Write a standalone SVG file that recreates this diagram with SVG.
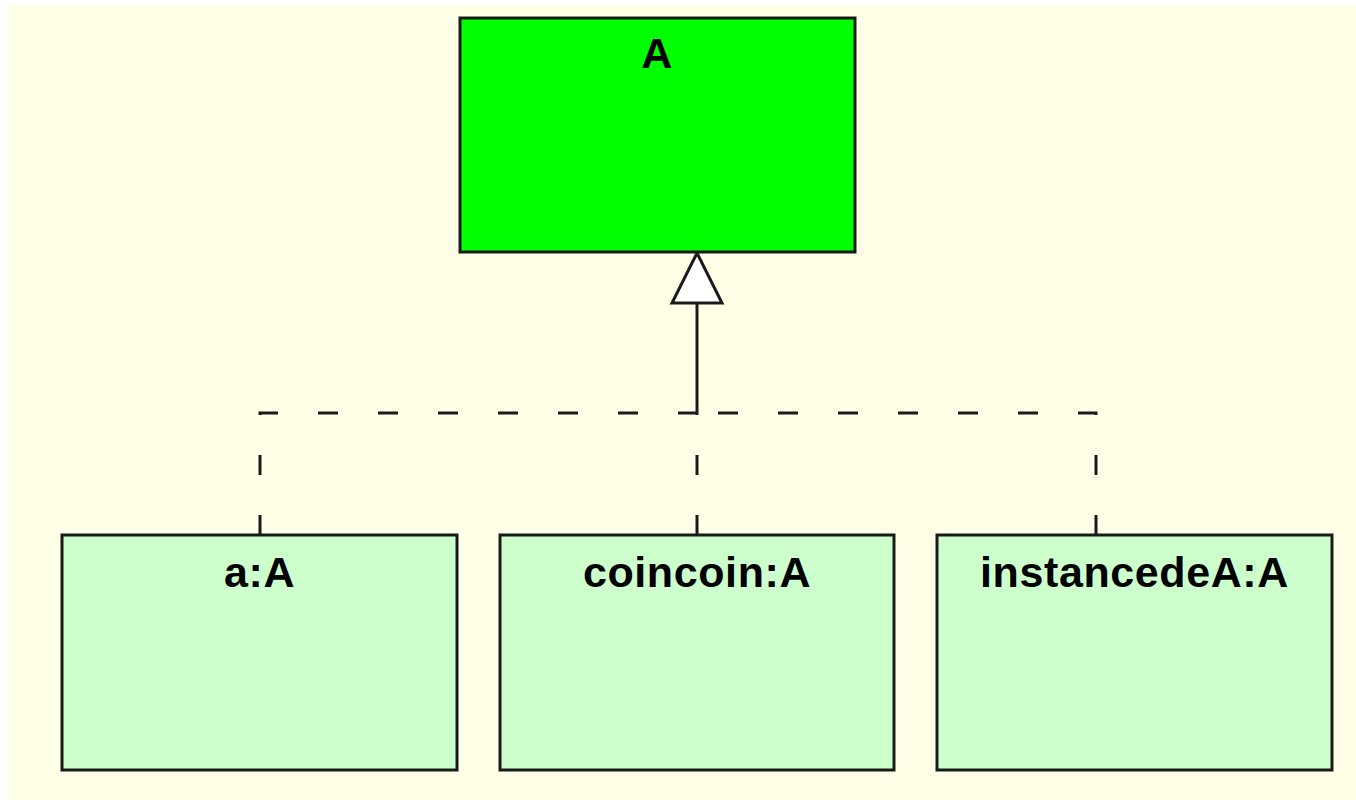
<svg xmlns="http://www.w3.org/2000/svg" width="1356" height="800" viewBox="0 0 1356 800">
<style>
.box{stroke:#1a1a1a;stroke-width:3}
.cls{fill:#00ff00}
.obj{fill:#ccffcc}
.lbl{font-family:"Liberation Sans",Arial,sans-serif;font-weight:bold;font-size:43px;letter-spacing:0.6px;fill:#000;text-anchor:middle}
.dash{fill:none;stroke:#1a1a1a;stroke-width:3;stroke-dasharray:20 40}
.solid{fill:none;stroke:#1a1a1a;stroke-width:3}
</style>
<rect x="0" y="0" width="1356" height="800" fill="#ffffff"/>
<rect x="7" y="5" width="1349" height="795" fill="#fffee6"/>
<g id="connectors">
<path class="dash" d="M260,535 V413 H697"/>
<path class="dash" d="M697,535 V413"/>
<path class="dash" d="M1096,535 V413 H697"/>
<path class="solid" d="M697,413 V303"/>
<polygon points="697,253 722,303 672,303" fill="#ffffff" stroke="#1a1a1a" stroke-width="3" stroke-linejoin="miter"/>
</g>
<g id="A">
<rect class="box cls" x="460" y="18" width="395" height="234"/>
<text class="lbl" x="657" y="68">A</text>
</g>
<g id="a">
<rect class="box obj" x="62" y="535" width="395" height="235"/>
<text class="lbl" x="259.5" y="587">a:A</text>
</g>
<g id="coincoin">
<rect class="box obj" x="500" y="535" width="394" height="235"/>
<text class="lbl" x="697" y="587">coincoin:A</text>
</g>
<g id="instancedeA">
<rect class="box obj" x="937" y="535" width="395" height="235"/>
<text class="lbl" x="1134.5" y="587">instancedeA:A</text>
</g>
</svg>
